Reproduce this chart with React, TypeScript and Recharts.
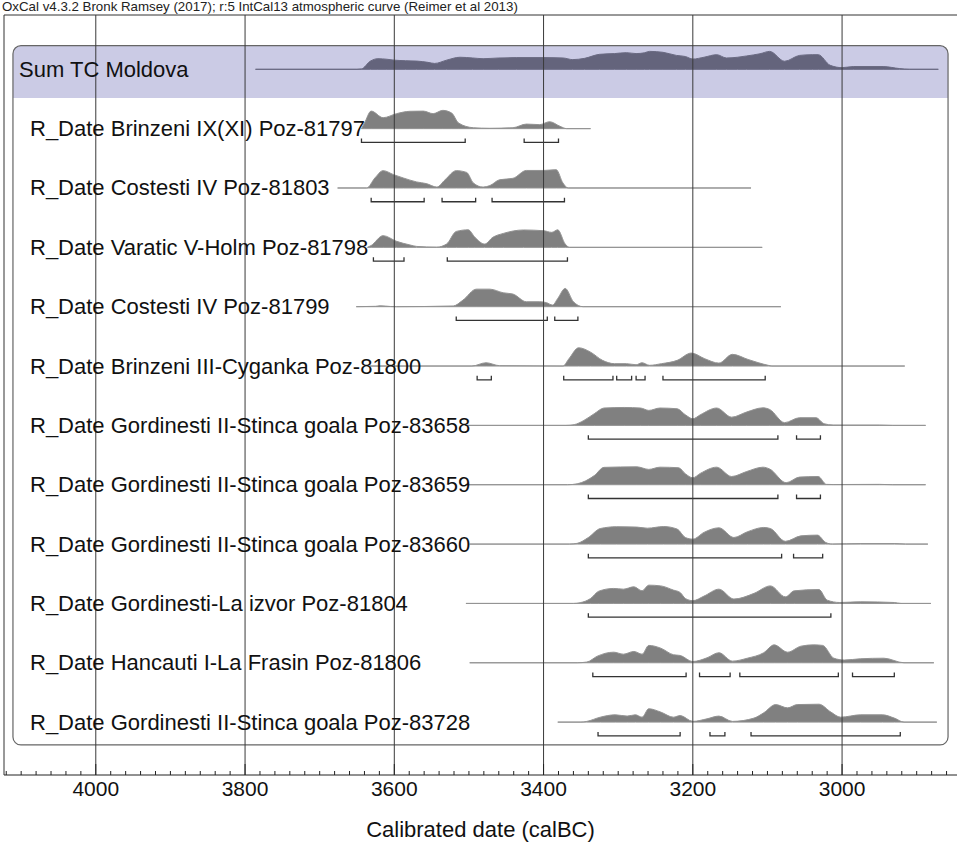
import React from "react";
import { ComposedChart, XAxis, YAxis, Area, Line, ReferenceLine, ReferenceArea, Rectangle } from "recharts";

const FONT = '"Liberation Sans", Arial, Helvetica, sans-serif';

const HEADER = "OxCal v4.3.2 Bronk Ramsey (2017); r:5 IntCal13 atmospheric curve (Reimer et al 2013)";
const AXIS_TITLE = "Calibrated date (calBC)";

const LABELS = [
  "Sum TC Moldova",
  "R_Date Brinzeni IX(XI) Poz-81797",
  "R_Date Costesti IV Poz-81803",
  "R_Date Varatic V-Holm Poz-81798",
  "R_Date Costesti IV Poz-81799",
  "R_Date Brinzeni III-Cyganka Poz-81800",
  "R_Date Gordinesti II-Stinca goala Poz-83658",
  "R_Date Gordinesti II-Stinca goala Poz-83659",
  "R_Date Gordinesti II-Stinca goala Poz-83660",
  "R_Date Gordinesti-La izvor Poz-81804",
  "R_Date Hancauti I-La Frasin Poz-81806",
  "R_Date Gordinesti II-Stinca goala Poz-83728",
];

const MAJOR_TICKS = [4000, 3800, 3600, 3400, 3200, 3000];
const MINOR_TICKS = [
  4120, 4100, 4080, 4060, 4040, 4020, 4000, 3980, 3960, 3940, 3920, 3900, 3880, 3860, 3840, 3820,
  3800, 3780, 3760, 3740, 3720, 3700, 3680, 3660, 3640, 3620, 3600, 3580, 3560, 3540, 3520, 3500,
  3480, 3460, 3440, 3420, 3400, 3380, 3360, 3340, 3320, 3300, 3280, 3260, 3240, 3220, 3200, 3180,
  3160, 3140, 3120, 3100, 3080, 3060, 3040, 3020, 3000, 2980, 2960, 2940, 2920, 2900, 2880, 2860,
];

// [year calBC, relative probability]
const SUM_TC = [
  [3786, 0], [3650, 0], [3644, 0.02], [3632, 0.45], [3622, 0.58], [3610, 0.55], [3600, 0.5], [3585, 0.47],
  [3570, 0.45], [3555, 0.38], [3546, 0.32], [3530, 0.5], [3512, 0.66], [3495, 0.62], [3481, 0.58], [3460, 0.62],
  [3436, 0.64], [3400, 0.64], [3374, 0.62], [3361, 0.53], [3345, 0.6], [3325, 0.82], [3305, 0.86], [3289, 0.91],
  [3276, 0.86], [3265, 0.9], [3258, 0.98], [3240, 0.93], [3222, 0.76], [3210, 0.7], [3200, 0.56], [3185, 0.66],
  [3168, 0.8], [3155, 0.62], [3140, 0.66], [3128, 0.73], [3110, 0.85], [3097, 0.98], [3077, 0.44], [3057, 0.76],
  [3040, 0.8], [3032, 0.8], [3016, 0.22], [3000, 0.09], [2985, 0.15], [2945, 0.15], [2923, 0.04], [2910, 0], [2871, 0],
];
const BRINZENI_IX = [
  [3644, 0], [3640, 0.3], [3631, 0.96], [3615, 0.6], [3597, 0.82], [3579, 0.95], [3561, 0.96], [3548, 0.82],
  [3535, 1.0], [3523, 0.85], [3514, 0.31], [3494, 0.05], [3472, 0.02], [3441, 0.05], [3423, 0.25], [3405, 0.22],
  [3392, 0.38], [3378, 0.13], [3369, 0], [3337, 0],
];
const COSTESTI_81803 = [
  [3676, 0], [3637, 0], [3626, 0.55], [3615, 0.95], [3601, 0.73], [3588, 0.55], [3570, 0.33], [3557, 0.24],
  [3543, 0.05], [3532, 0.45], [3517, 0.95], [3503, 0.85], [3494, 0.27], [3481, 0.05], [3472, 0.13], [3459, 0.45],
  [3441, 0.53], [3423, 0.96], [3400, 0.96], [3383, 1.0], [3374, 0.27], [3367, 0], [3122, 0],
];
const VARATIC = [
  [3636, 0], [3631, 0.1], [3615, 0.64], [3597, 0.33], [3579, 0.13], [3570, 0.05], [3543, 0.01], [3530, 0.18],
  [3517, 0.87], [3501, 0.96], [3492, 0.55], [3479, 0.18], [3468, 0.55], [3454, 0.76], [3427, 0.95], [3400, 0.91],
  [3389, 0.82], [3381, 0.96], [3371, 0.18], [3365, 0], [3107, 0],
];
const COSTESTI_81799 = [
  [3651, 0], [3625, 0.02], [3619, 0.05], [3605, 0.01], [3597, 0], [3521, 0.04], [3508, 0.36], [3490, 0.96],
  [3472, 0.96], [3454, 0.76], [3441, 0.69], [3423, 0.27], [3405, 0.27], [3396, 0.22], [3388, 0.09], [3381, 0.45],
  [3371, 1.0], [3360, 0.27], [3347, 0], [3082, 0],
];
const BRINZENI_III = [
  [3633, 0], [3496, 0], [3477, 0.18], [3459, 0.02], [3374, 0], [3366, 0.4], [3353, 1.0], [3337, 0.76],
  [3321, 0.31], [3305, 0.13], [3289, 0.13], [3276, 0.07], [3268, 0.18], [3258, 0.04], [3242, 0.13], [3221, 0.31],
  [3202, 0.71], [3184, 0.4], [3165, 0.16], [3147, 0.64], [3126, 0.36], [3099, 0.04], [3094, 0], [2916, 0],
];
const GORD_83658 = [
  [3505, 0], [3370, 0], [3359, 0.04], [3346, 0.27], [3332, 0.64], [3319, 0.95], [3292, 0.98], [3270, 0.95],
  [3259, 0.82], [3244, 0.95], [3221, 0.91], [3210, 0.58], [3200, 0.36], [3190, 0.58], [3168, 0.95], [3148, 0.45],
  [3128, 0.73], [3106, 0.96], [3097, 0.87], [3077, 0.15], [3057, 0.42], [3035, 0.42], [3024, 0.09], [3012, 0.02],
  [2950, 0.02], [2932, 0], [2888, 0],
];
const GORD_83659 = [
  [3505, 0], [3368, 0], [3355, 0.05], [3332, 0.5], [3319, 0.95], [3275, 0.98], [3259, 0.84], [3244, 0.96],
  [3219, 0.93], [3210, 0.6], [3200, 0.38], [3190, 0.62], [3168, 0.96], [3148, 0.45], [3128, 0.72], [3106, 0.96],
  [3097, 0.86], [3075, 0.11], [3057, 0.42], [3032, 0.45], [3021, 0.02], [3012, 0.01], [2950, 0.02], [2932, 0], [2888, 0],
];
const GORD_83660 = [
  [3499, 0], [3365, 0], [3355, 0.04], [3340, 0.36], [3324, 0.85], [3302, 0.95], [3275, 0.93], [3261, 0.87],
  [3239, 0.96], [3221, 0.82], [3210, 0.36], [3200, 0.27], [3185, 0.64], [3165, 0.89], [3145, 0.36], [3127, 0.67],
  [3105, 0.91], [3096, 0.85], [3076, 0.15], [3055, 0.45], [3033, 0.49], [3022, 0.09], [3013, 0], [2975, 0.03],
  [2930, 0.03], [2915, 0], [2885, 0],
];
const GORD_IZVOR = [
  [3504, 0], [3360, 0], [3351, 0.04], [3337, 0.27], [3326, 0.67], [3306, 0.82], [3293, 0.78], [3279, 0.91],
  [3268, 0.69], [3259, 1.0], [3243, 0.96], [3226, 0.73], [3217, 0.6], [3210, 0.27], [3200, 0.15], [3185, 0.4],
  [3165, 0.78], [3145, 0.24], [3118, 0.55], [3096, 0.96], [3076, 0.36], [3064, 0.69], [3031, 0.76], [3020, 0.18],
  [3003, 0.05], [2975, 0.09], [2930, 0.05], [2921, 0], [2881, 0],
];
const HANCAUTI = [
  [3499, 0], [3355, 0], [3342, 0.04], [3328, 0.36], [3306, 0.58], [3293, 0.47], [3279, 0.62], [3268, 0.47],
  [3259, 0.95], [3243, 0.8], [3226, 0.44], [3217, 0.4], [3200, 0.07], [3181, 0.27], [3165, 0.55], [3147, 0.09],
  [3127, 0.25], [3105, 0.55], [3091, 0.98], [3073, 0.58], [3055, 0.91], [3038, 0.98], [3026, 0.95], [3011, 0.25],
  [2997, 0.15], [2975, 0.22], [2944, 0.25], [2917, 0], [2877, 0],
];
const GORD_83728 = [
  [3381, 0], [3350, 0], [3342, 0.04], [3324, 0.27], [3304, 0.4], [3288, 0.33], [3277, 0.4], [3268, 0.27],
  [3259, 0.73], [3243, 0.55], [3226, 0.27], [3217, 0.36], [3200, 0.04], [3181, 0.18], [3165, 0.33], [3147, 0.04],
  [3118, 0.22], [3105, 0.51], [3089, 0.96], [3073, 0.78], [3060, 0.96], [3031, 0.98], [3015, 0.55], [3002, 0.27],
  [2975, 0.4], [2946, 0.4], [2930, 0.22], [2917, 0], [2873, 0],
];

const DISTS = [
  SUM_TC, BRINZENI_IX, COSTESTI_81803, VARATIC, COSTESTI_81799, BRINZENI_III,
  GORD_83658, GORD_83659, GORD_83660, GORD_IZVOR, HANCAUTI, GORD_83728,
];

// 95.4% ranges [from, to]
const RANGES = [
  [],
  [[3644, 3505], [3426, 3380]],
  [[3631, 3560], [3536, 3491], [3469, 3372]],
  [[3628, 3587], [3529, 3368]],
  [[3517, 3395], [3385, 3354]],
  [[3489, 3470], [3373, 3307], [3302, 3282], [3276, 3264], [3240, 3103]],
  [[3340, 3086], [3061, 3029]],
  [[3340, 3086], [3061, 3029]],
  [[3340, 3081], [3065, 3026]],
  [[3340, 3015]],
  [[3334, 3209], [3191, 3150], [3137, 3005], [2986, 2930]],
  [[3327, 3217], [3177, 3157], [3122, 2922]],
];

const PEAK = 0.308; // row units for p = 1
const BR_Y = 0.232;
const BR_TICK = 0.067;

const rowData = DISTS.map((d, i) => d.map(([x, p]) => ({ x, r: [i, i - p * PEAK] })));
const rangeData = RANGES.map((rs, i) =>
  rs.flatMap(([a, b]) => [
    { x: a, y: i + BR_Y - BR_TICK },
    { x: a, y: i + BR_Y },
    { x: b, y: i + BR_Y },
    { x: b, y: i + BR_Y - BR_TICK },
    { x: b, y: null },
  ])
);

function YearTick({ x, y, payload }: any) {
  const v = payload.value;
  const major = MAJOR_TICKS.includes(v);
  return (
    <g>
      <line x1={x} x2={x} y1={y} y2={y - (major ? 11 : 4)} stroke="#222" />
      {major && (
        <text x={x} y={y + 21} textAnchor="middle" fontSize={21} fontFamily={FONT} fill="#111">{v}</text>
      )}
    </g>
  );
}

function RowLabel({ y, payload }: any) {
  const i = payload.value;
  return (
    <text x={i === 0 ? 19 : 30} y={y + 7.5} fontSize={22} fontFamily={FONT} fill="#111">{LABELS[i]}</text>
  );
}

export default function App() {
  return (
    <div style={{ position: "absolute", left: 0, top: 0, width: 957, height: 843, background: "#fff" }}>
      <div style={{ position: "absolute", left: 2, top: 0, fontFamily: FONT, fontSize: 13.3, lineHeight: "14px", color: "#222", whiteSpace: "nowrap" }}>
        {HEADER}
      </div>
      <ComposedChart width={957} height={843} margin={{ top: 15, right: 0, bottom: 0, left: 3 }}>
        <XAxis
          type="number" dataKey="x" domain={[2846, 4123]} reversed allowDataOverflow
          ticks={MINOR_TICKS} interval={0} tick={<YearTick />} tickSize={0} tickMargin={0} tickLine={false}
          axisLine={{ stroke: "#222" }} height={68}
          label={{ value: AXIS_TITLE, position: "insideBottom", offset: 6, fontSize: 22, fill: "#111", fontFamily: FONT }}
        />
        <ReferenceLine y={-0.915} stroke="#333" />
        <ReferenceLine x={4123} stroke="#333" />
        <ReferenceArea x1={4111} x2={2858} y1={-0.398} y2={11.385} fill="#fff" fillOpacity={1} stroke="none"
          shape={(p: any) => <Rectangle {...p} radius={8} />} />
        <ReferenceArea x1={4111} x2={2858} y1={-0.398} y2={0.484} fill="#cbcbe5" fillOpacity={1} stroke="none"
          shape={(p: any) => <Rectangle {...p} radius={[8, 8, 0, 0]} />} />
        <ReferenceArea x1={4111} x2={2858} y1={-0.398} y2={11.385} fill="none" stroke="#666" strokeWidth={1.2}
          shape={(p: any) => <Rectangle {...p} radius={8} />} />
        {rowData.map((d, i) => (
          <Area
            key={"a" + i} data={d} dataKey="r" type="monotoneX"
            fill={i === 0 ? "#64647c" : "#808080"} fillOpacity={1}
            stroke={i === 0 ? "#6a6a82" : "#939393"} strokeWidth={1}
            dot={false} activeDot={false} isAnimationActive={false}
          />
        ))}
        {rangeData.map((d, i) =>
          d.length ? (
            <Line key={"l" + i} data={d} dataKey="y" type="linear" stroke="#333" strokeWidth={1.3}
              dot={false} activeDot={false} connectNulls={false} isAnimationActive={false} />
          ) : null
        )}
        {MAJOR_TICKS.map((t) => (
          <ReferenceLine key={t} x={t} stroke="#3a3a3a" strokeWidth={1} />
        ))}
        <YAxis
          type="number" domain={[-0.915, 11.891]} reversed allowDataOverflow width={1}
          ticks={LABELS.map((_, i) => i)} interval={0} tick={<RowLabel />} axisLine={false} tickLine={false}
        />
      </ComposedChart>
    </div>
  );
}
